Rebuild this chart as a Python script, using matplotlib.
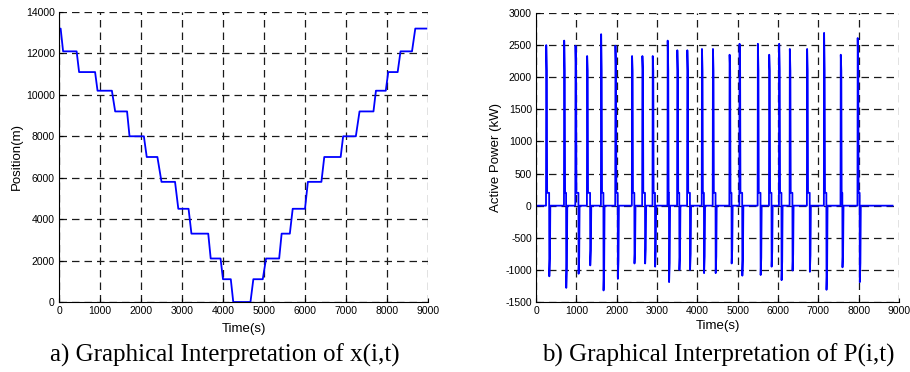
import matplotlib.pyplot as plt
import numpy as np

# position staircase: (time, position) corners
pos_t = [0, 40, 100, 430, 490, 880, 940, 1290, 1370, 1660, 1720, 2070, 2140,
         2400, 2500, 2830, 2910, 3160, 3230, 3640, 3700, 3940, 4000, 4190, 4250,
         4670, 4740, 4970, 5050, 5370, 5430, 5630, 5700, 6000, 6070, 6400, 6470,
         6870, 6930, 7240, 7330, 7670, 7730, 7970, 8030, 8260, 8330, 8610, 8690, 8960]
pos_x = [13200, 13200, 12100, 12100, 11100, 11100, 10200, 10200, 9200, 9200, 8000,
         8000, 7000, 7000, 5800, 5800, 4500, 4500, 3300, 3300, 2100, 2100, 1100,
         1100, 0, 0, 1100, 1100, 2100, 2100, 3300, 3300, 4500, 4500, 5800, 5800,
         7000, 7000, 8000, 8000, 9200, 9200, 10200, 10200, 11100, 11100, 12100,
         12100, 13200, 13200]

# power events: start of traction, start of braking, peak traction, peak braking
ev_start = [248, 693, 974, 1262, 1609, 1964, 2376, 2632, 2888, 3259, 3498, 3746,
            4109, 4381, 4794, 5041, 5495, 5776, 6023, 6287, 6716, 7137, 7550, 7970]
ev_brake = [330, 750, 1056, 1345, 1675, 2030, 2442, 2706, 2954, 3300, 3556, 3820,
            4167, 4455, 4851, 5116, 5570, 5842, 6089, 6361, 6790, 7203, 7599, 8028]
ev_peak = [2500, 2570, 2490, 2330, 2670, 2490, 2330, 2330, 2330, 2570, 2420, 2420,
           2440, 2440, 2350, 2520, 2520, 2350, 2520, 2440, 2440, 2690, 2350, 2610]
ev_neg = [-1100, -1280, -1060, -930, -1320, -1140, -900, -900, -950, -1190, -1000, -1000,
          -1050, -1050, -900, -1090, -1080, -950, -1160, -1010, -1030, -1310, -960, -1190]
t_end = 8840

pt, pp = [0], [0]
for s, b, pk, ng in zip(ev_start, ev_brake, ev_peak, ev_neg):
    pt += [s, s + 6, s + 20, s + 28, b - 4, b, b + 15, b + 25]
    pp += [0, pk, 2100, 200, 200, ng, ng * 0.75, 0]
pt.append(t_end)
pp.append(0)

plt.rcParams['font.family'] = ['Liberation Sans', 'DejaVu Sans']
plt.rcParams['axes.unicode_minus'] = False

fig = plt.figure(figsize=(9.1, 3.72), dpi=100)
ax1 = fig.add_axes([59 / 910, 1 - 302 / 372, 369 / 910, 290 / 372])
ax2 = fig.add_axes([536 / 910, 1 - 302 / 372, 363 / 910, 289 / 372])

ax1.plot(pos_t, pos_x, color='#0000ff', lw=1.3)
ax2.plot(pt, pp, color='#0000ff', lw=1.3)

ax1.set_xlim(0, 9000)
ax1.set_ylim(0, 14000)
ax1.set_xticks(np.arange(0, 9001, 1000))
ax1.set_yticks(np.arange(0, 14001, 2000))
ax1.set_ylabel('Position(m)', fontsize=9.5, labelpad=2)
ax1.set_xlabel('Time(s)', fontsize=9.5, labelpad=5)

ax2.set_xlim(0, 9000)
ax2.set_ylim(-1500, 3000)
ax2.set_xticks(np.arange(0, 9001, 1000))
ax2.set_yticks(np.arange(-1500, 3001, 500))
ax2.set_ylabel('Active Power (kW)', fontsize=9.5, labelpad=2)
ax2.set_xlabel('Time(s)', fontsize=9.5, labelpad=3)

for ax in (ax1, ax2):
    ax.grid(True, color='0.1', linestyle=(0, (6, 4)), lw=0.9)
    ax.spines['top'].set_visible(False)
    ax.spines['right'].set_visible(False)
    ax.tick_params(direction='in', labelsize=7.5, length=3, pad=3)
    ax.set_axisbelow(True)

fig.text(225 / 910, 1 - 355 / 372, 'a) Graphical Interpretation of x(i,t)',
         ha='center', va='center', fontsize=18, family='Liberation Serif')
fig.text(718 / 910, 1 - 355 / 372, 'b) Graphical Interpretation of P(i,t)',
         ha='center', va='center', fontsize=18, family='Liberation Serif')

fig.savefig('out.png', dpi=100)
